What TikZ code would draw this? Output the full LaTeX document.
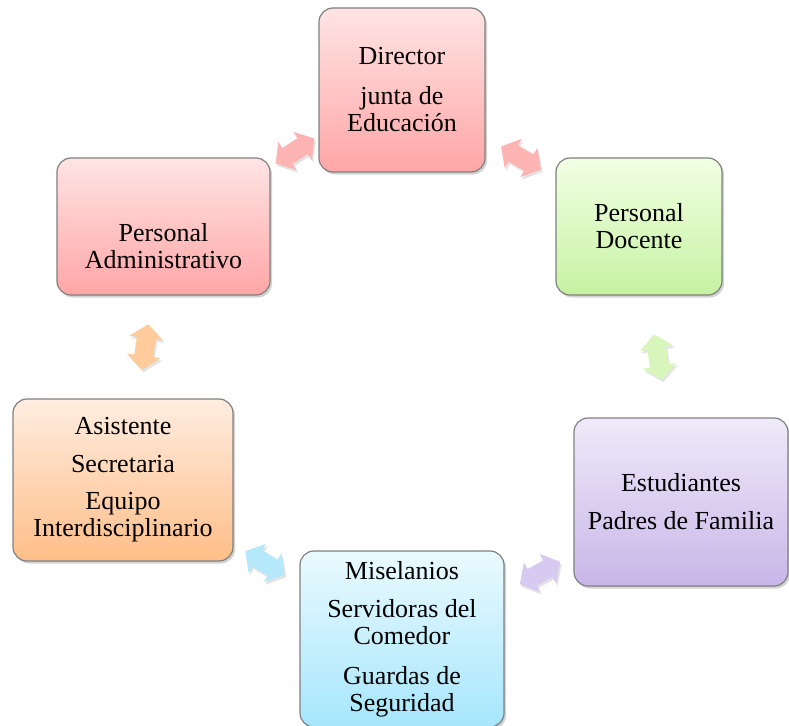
\documentclass[tikz,border=0pt]{standalone}
\usepackage{fontspec}
\setmainfont{Liberation Serif}
\usetikzlibrary{shadows}
\definecolor{pinkT}{HTML}{FFE4E4}
\definecolor{pinkB}{HTML}{FFA6A6}
\definecolor{greenT}{HTML}{F2FFE4}
\definecolor{greenB}{HTML}{C6F2A2}
\definecolor{lavT}{HTML}{EFEAF9}
\definecolor{lavB}{HTML}{C8B6E8}
\definecolor{cyanT}{HTML}{EAFAFF}
\definecolor{cyanB}{HTML}{A6E6FC}
\definecolor{peachT}{HTML}{FFEDE0}
\definecolor{peachB}{HTML}{FFBE88}
\definecolor{apink}{HTML}{FFB4B4}
\definecolor{apeach}{HTML}{FFCB9A}
\definecolor{agreen}{HTML}{D8F6BC}
\definecolor{acyan}{HTML}{B6E8FB}
\definecolor{alav}{HTML}{D6CAF1}
\newcommand{\dblarr}[3]{%
  \begin{scope}[shift={(#1)}, rotate=#2]
    \fill[arrshape, fill=#3]
      (-23,0) -- (-9,17) -- (-9,9.5) -- (9,9.5) -- (9,17) -- (23,0)
      -- (9,-17) -- (9,-9.5) -- (-9,-9.5) -- (-9,-17) -- cycle;
  \end{scope}}
\begin{document}
\begin{tikzpicture}[x=1pt,y=-1pt,
  box/.style={draw=black!50, line width=1.2pt, rounded corners=14pt,
    align=center, inner sep=0pt, font=\fontsize{26}{27}\selectfont,
    drop shadow={opacity=0.35, shadow xshift=2pt, shadow yshift=-2.5pt}},
  arrshape/.style={drop shadow={opacity=0.22, shadow xshift=1.5pt, shadow yshift=-2.5pt}}]
\useasboundingbox (0,0) rectangle (789,725);

\node[box, minimum width=166pt, minimum height=164pt, top color=pinkT, bottom color=pinkB]
  (dir) at (402,90) {Director\\[13pt]junta de\\Educación};
\node[box, minimum width=166pt, minimum height=137pt, top color=greenT, bottom color=greenB]
  (doc) at (639,226.5) {Personal\\Docente};
\node[box, minimum width=214pt, minimum height=168pt, top color=lavT, bottom color=lavB]
  (est) at (681,502) {Estudiantes\\[11pt]Padres de Familia};
\node[box, minimum width=204pt, minimum height=176pt, top color=cyanT, bottom color=cyanB]
  (mis) at (402,639) {Miselanios\\[11pt]Servidoras del\\Comedor\\[13pt]Guardas de\\Seguridad};
\node[box, minimum width=220pt, minimum height=162pt, top color=peachT, bottom color=peachB]
  (asi) at (123,480) {Asistente\\[11pt]Secretaria\\[10pt]Equipo\\Interdisciplinario};
\node[box, minimum width=213pt, minimum height=137pt, top color=pinkT, bottom color=pinkB]
  (adm) at (163.5,226.5) {\mbox{}\\[31pt]Personal\\Administrativo};

\coordinate (a1) at (295,151);
\coordinate (a2) at (521,158);
\coordinate (a3) at (145,347);
\coordinate (a4) at (658,357);
\coordinate (a5) at (265,563);
\coordinate (a6) at (540,573);
\dblarr{a1}{33}{apink}
\dblarr{a2}{-30}{apink}
\dblarr{a3}{82}{apeach}
\dblarr{a4}{100}{agreen}
\dblarr{a5}{-31}{acyan}
\dblarr{a6}{29}{alav}
\end{tikzpicture}
\end{document}
